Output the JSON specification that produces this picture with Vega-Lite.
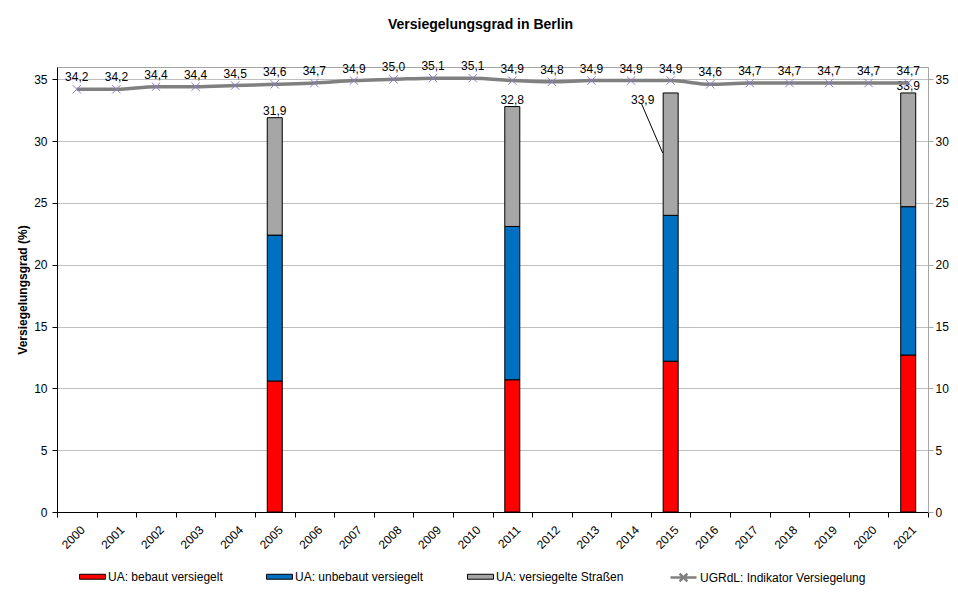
{
  "$schema": "https://vega.github.io/schema/vega-lite/v6.json",
  "width": 871,
  "height": 445,
  "autosize": "none",
  "padding": {"left": 57, "top": 67, "right": 30, "bottom": 83},
  "title": {"text": "Versiegelungsgrad in Berlin", "fontSize": 14, "fontWeight": "bold", "font": "Liberation Sans", "anchor": "middle", "dx": -12, "offset": 28, "color": "black"},
  "config": {
    "font": "Liberation Sans",
    "locale": {"number": {"decimal": ",", "thousands": ".", "grouping": [3], "currency": ["", " €"]}},
    "view": {"stroke": "#A6A6A6", "strokeWidth": 1},
    "axis": {"labelFont": "Liberation Sans", "labelFontSize": 12, "labelColor": "black", "domainColor": "black", "tickColor": "black", "tickSize": 5, "titleFont": "Liberation Sans", "titleColor": "black"},
    "legend": {"labelFont": "Liberation Sans", "labelFontSize": 12, "labelColor": "black", "labelLimit": 400}
  },
  "datasets": {
    "bars": [
      {"year": "2005", "series": "UA: bebaut versiegelt", "value": 10.6},
      {"year": "2005", "series": "UA: unbebaut versiegelt", "value": 11.8},
      {"year": "2005", "series": "UA: versiegelte Straßen", "value": 9.5},
      {"year": "2011", "series": "UA: bebaut versiegelt", "value": 10.7},
      {"year": "2011", "series": "UA: unbebaut versiegelt", "value": 12.4},
      {"year": "2011", "series": "UA: versiegelte Straßen", "value": 9.7},
      {"year": "2015", "series": "UA: bebaut versiegelt", "value": 12.2},
      {"year": "2015", "series": "UA: unbebaut versiegelt", "value": 11.8},
      {"year": "2015", "series": "UA: versiegelte Straßen", "value": 9.9},
      {"year": "2021", "series": "UA: bebaut versiegelt", "value": 12.7},
      {"year": "2021", "series": "UA: unbebaut versiegelt", "value": 12.0},
      {"year": "2021", "series": "UA: versiegelte Straßen", "value": 9.2}
    ],
    "line": [
      {"year": "2000", "value": 34.2}, {"year": "2001", "value": 34.2}, {"year": "2002", "value": 34.4},
      {"year": "2003", "value": 34.4}, {"year": "2004", "value": 34.5}, {"year": "2005", "value": 34.6},
      {"year": "2006", "value": 34.7}, {"year": "2007", "value": 34.9}, {"year": "2008", "value": 35.0},
      {"year": "2009", "value": 35.1}, {"year": "2010", "value": 35.1}, {"year": "2011", "value": 34.9},
      {"year": "2012", "value": 34.8}, {"year": "2013", "value": 34.9}, {"year": "2014", "value": 34.9},
      {"year": "2015", "value": 34.9}, {"year": "2016", "value": 34.6}, {"year": "2017", "value": 34.7},
      {"year": "2018", "value": 34.7}, {"year": "2019", "value": 34.7}, {"year": "2020", "value": 34.7},
      {"year": "2021", "value": 34.7}
    ]
  },
  "encoding": {
    "x": {
      "field": "year", "type": "ordinal",
      "scale": {"domain": ["2000","2001","2002","2003","2004","2005","2006","2007","2008","2009","2010","2011","2012","2013","2014","2015","2016","2017","2018","2019","2020","2021"], "paddingInner": 0, "paddingOuter": 0},
      "axis": {"title": null, "labelAngle": -45, "labelAlign": "right", "labelBaseline": "top", "labelPadding": 7, "labelOffset": 2, "tickBand": "extent", "grid": false}
    }
  },
  "layer": [
    {
      "data": {"name": "bars"},
      "layer": [
        {
          "mark": {"type": "bar", "width": 15, "stroke": "black", "strokeWidth": 1},
          "encoding": {
            "y": {"field": "value", "type": "quantitative", "stack": "zero", "scale": {"domain": [0, 36], "nice": false, "zero": true},
                  "axis": {"title": "Versiegelungsgrad (%)", "titleFontSize": 12, "titleFontWeight": "bold", "titlePadding": 4, "values": [0,5,10,15,20,25,30,35], "grid": true, "gridColor": "#BFBFBF", "labelPadding": 5, "orient": "left"}},
            "color": {"field": "series", "type": "nominal",
              "scale": {"domain": ["UA: bebaut versiegelt", "UA: unbebaut versiegelt", "UA: versiegelte Straßen"], "range": ["#FF0000", "#0070C0", "#A6A6A6"]},
              "legend": {
                "title": null, "orient": "none", "legendX": 22, "legendY": 496, "direction": "horizontal",
                "columnPadding": 41, "labelOffset": 2, "symbolSize": 676, "padding": 0,
                "symbolType": "M-1,-0.19H1V0.19H-1Z", "symbolStrokeColor": "black", "symbolStrokeWidth": 1, "symbolOpacity": 1
              }},
            "order": {"field": "series", "sort": "ascending"}
          }
        },
        {
          "transform": [
            {"aggregate": [{"op": "sum", "field": "value", "as": "total"}], "groupby": ["year"]},
            {"filter": "datum.year != '2015'"}
          ],
          "mark": {"type": "text", "dy": -7, "fontSize": 12, "color": "black"},
          "encoding": {
            "y": {"field": "total", "type": "quantitative"},
            "text": {"field": "total", "type": "quantitative", "format": ".1f"}
          }
        },
        {
          "transform": [
            {"aggregate": [{"op": "sum", "field": "value", "as": "total"}], "groupby": ["year"]},
            {"filter": "datum.year == '2015'"}
          ],
          "mark": {"type": "text", "dx": -28, "dy": 7, "fontSize": 12, "color": "black"},
          "encoding": {
            "y": {"field": "total", "type": "quantitative"},
            "text": {"field": "total", "type": "quantitative", "format": ".1f"}
          }
        },
        {
          "transform": [{"filter": "datum.year == '2015' && datum.series == 'UA: bebaut versiegelt'"}],
          "mark": {"type": "rule", "color": "black", "strokeWidth": 1, "xOffset": -29, "x2Offset": -8},
          "encoding": {
            "x2": {"field": "year"},
            "y": {"datum": 33.0, "type": "quantitative"},
            "y2": {"datum": 29.05}
          }
        }
      ]
    },
    {
      "data": {"name": "line"},
      "layer": [
        {
          "mark": {"type": "line", "strokeWidth": 3.5, "interpolate": "monotone"},
          "encoding": {
            "y": {"field": "value", "type": "quantitative", "scale": {"domain": [0, 36], "nice": false, "zero": true},
                  "axis": {"orient": "right", "title": null, "values": [0,5,10,15,20,25,30,35], "grid": false, "domainColor": "#A6A6A6", "tickColor": "#A6A6A6", "labelPadding": 2}},
            "stroke": {"datum": "UGRdL: Indikator Versiegelung", "type": "nominal",
              "scale": {"domain": ["UGRdL: Indikator Versiegelung"], "range": ["#808080"]},
              "legend": {
                "title": null, "orient": "none", "legendX": 612, "legendY": 496, "direction": "horizontal",
                "labelOffset": 2, "symbolSize": 676, "padding": 0,
                "symbolType": "M-1,0H1M-0.3,-0.3L0.3,0.3M-0.3,0.3L0.3,-0.3", "symbolStrokeColor": "#808080", "symbolStrokeWidth": 2.5, "symbolFillColor": "transparent", "symbolOpacity": 1
              }}
          }
        },
        {
          "mark": {"type": "point", "shape": "M-1,-1L1,1M-1,1L1,-1", "size": 70, "filled": false, "stroke": "#8E7CC3", "strokeWidth": 1, "opacity": 1},
          "encoding": {
            "y": {"field": "value", "type": "quantitative"}
          }
        },
        {
          "mark": {"type": "text", "dy": -12, "fontSize": 12, "color": "black"},
          "encoding": {
            "y": {"field": "value", "type": "quantitative"},
            "text": {"field": "value", "type": "quantitative", "format": ".1f"}
          }
        }
      ]
    }
  ],
  "resolve": {"scale": {"y": "independent"}}
}
